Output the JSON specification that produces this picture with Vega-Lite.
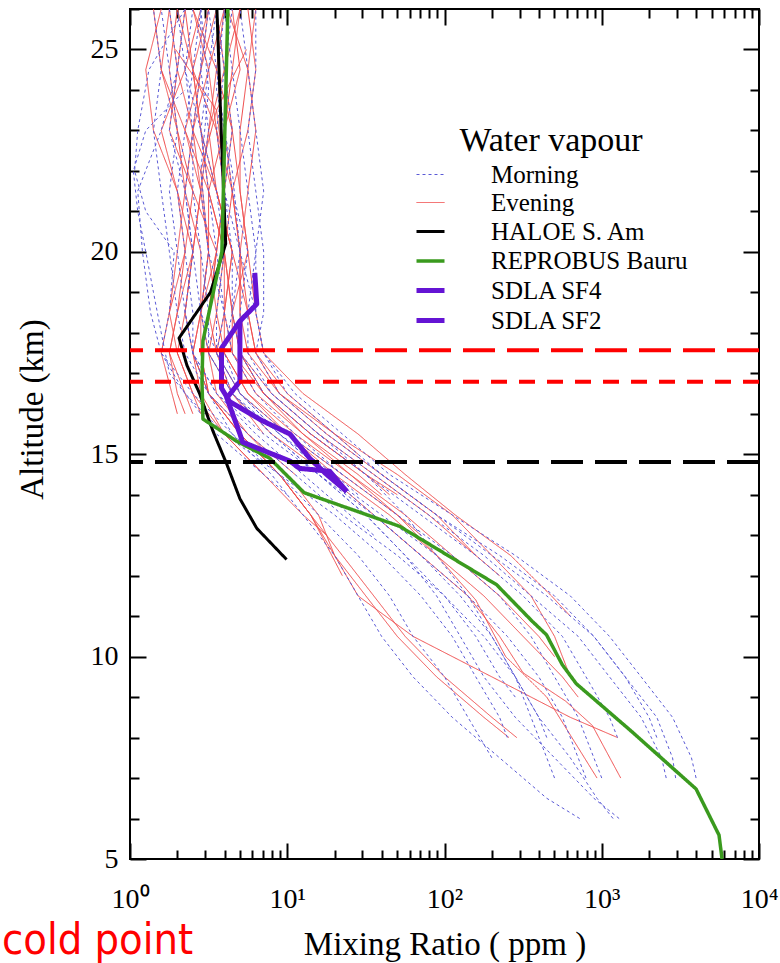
{
  "$schema": "https://vega.github.io/schema/vega-lite/v6.json",
  "width": 629,
  "height": 850,
  "autosize": {"type": "none"},
  "padding": {"left": 130, "top": 9, "right": 21, "bottom": 104},
  "background": "white",
  "config": {
    "font": "Liberation Serif",
    "view": {"stroke": "black", "strokeWidth": 2},
    "axis": {
      "domain": false, "grid": false,
      "labelFont": "Liberation Serif", "titleFont": "Liberation Serif",
      "labelFontSize": 28, "titleFontSize": 33, "titleFontWeight": "normal",
      "labelColor": "black", "titleColor": "black", "tickColor": "black", "tickWidth": 2,
      "labelFlush": false, "labelOverlap": false, "labelBound": false
    },
    "line": {"strokeJoin": "round", "strokeCap": "butt"}
  },
  "title": {
    "text": "cold point", "orient": "bottom", "anchor": "start", "frame": "group",
    "dx": -128, "offset": -7, "baseline": "alphabetic",
    "color": "#ff0000", "font": "'Liberation Sans Narrow', 'DejaVu Sans Condensed', sans-serif",
    "fontSize": 43, "fontWeight": "normal"
  },
  "datasets": {
    "profiles": [
      {"series":"Evening","id":"E1","km":26,"ppm":1.78},{"series":"Evening","id":"E1","km":24.5,"ppm":1.58},{"series":"Evening","id":"E1","km":23,"ppm":2.0},{"series":"Evening","id":"E1","km":21.5,"ppm":2.51},{"series":"Evening","id":"E1","km":20,"ppm":2.24},{"series":"Evening","id":"E1","km":18.5,"ppm":1.78},{"series":"Evening","id":"E1","km":17.5,"ppm":1.58},{"series":"Evening","id":"E1","km":16,"ppm":2.0},
      {"series":"Evening","id":"E2","km":26,"ppm":2.24},{"series":"Evening","id":"E2","km":24.5,"ppm":2.0},{"series":"Evening","id":"E2","km":23,"ppm":1.78},{"series":"Evening","id":"E2","km":21.5,"ppm":2.51},{"series":"Evening","id":"E2","km":20,"ppm":3.55},{"series":"Evening","id":"E2","km":18.5,"ppm":3.16},{"series":"Evening","id":"E2","km":17.5,"ppm":2.82},{"series":"Evening","id":"E2","km":16.5,"ppm":3.16},{"series":"Evening","id":"E2","km":15.5,"ppm":5.01},{"series":"Evening","id":"E2","km":14.5,"ppm":8.91},{"series":"Evening","id":"E2","km":13.5,"ppm":14.1},{"series":"Evening","id":"E2","km":12,"ppm":22.4},
      {"series":"Evening","id":"E3","km":26,"ppm":3.16},{"series":"Evening","id":"E3","km":24.5,"ppm":2.82},{"series":"Evening","id":"E3","km":23,"ppm":2.24},{"series":"Evening","id":"E3","km":21.5,"ppm":3.16},{"series":"Evening","id":"E3","km":20,"ppm":3.98},{"series":"Evening","id":"E3","km":18.5,"ppm":3.55},{"series":"Evening","id":"E3","km":17.5,"ppm":3.16},{"series":"Evening","id":"E3","km":16.5,"ppm":4.47},{"series":"Evening","id":"E3","km":15.5,"ppm":7.94},{"series":"Evening","id":"E3","km":14.5,"ppm":17.8},{"series":"Evening","id":"E3","km":13.5,"ppm":35.5},{"series":"Evening","id":"E3","km":12.5,"ppm":70.8},{"series":"Evening","id":"E3","km":11.5,"ppm":141},{"series":"Evening","id":"E3","km":10.5,"ppm":224},{"series":"Evening","id":"E3","km":9.6,"ppm":316},{"series":"Evening","id":"E3","km":8.9,"ppm":589},{"series":"Evening","id":"E3","km":8.3,"ppm":871},{"series":"Evening","id":"E3","km":7,"ppm":1320},
      {"series":"Evening","id":"E4","km":26,"ppm":3.98},{"series":"Evening","id":"E4","km":24.5,"ppm":3.55},{"series":"Evening","id":"E4","km":23,"ppm":3.16},{"series":"Evening","id":"E4","km":21.5,"ppm":3.55},{"series":"Evening","id":"E4","km":20,"ppm":4.47},{"series":"Evening","id":"E4","km":18.5,"ppm":3.98},{"series":"Evening","id":"E4","km":17.5,"ppm":3.98},{"series":"Evening","id":"E4","km":16.5,"ppm":5.62},{"series":"Evening","id":"E4","km":15.5,"ppm":11.2},{"series":"Evening","id":"E4","km":14.5,"ppm":25.1},{"series":"Evening","id":"E4","km":13.5,"ppm":50.1},{"series":"Evening","id":"E4","km":12.5,"ppm":89.1},{"series":"Evening","id":"E4","km":11.4,"ppm":158},{"series":"Evening","id":"E4","km":10,"ppm":245},{"series":"Evening","id":"E4","km":9,"ppm":447},{"series":"Evening","id":"E4","km":7,"ppm":933},
      {"series":"Evening","id":"E5","km":26,"ppm":5.01},{"series":"Evening","id":"E5","km":24.5,"ppm":4.47},{"series":"Evening","id":"E5","km":23,"ppm":3.98},{"series":"Evening","id":"E5","km":21.5,"ppm":4.47},{"series":"Evening","id":"E5","km":20,"ppm":5.01},{"series":"Evening","id":"E5","km":18.5,"ppm":5.01},{"series":"Evening","id":"E5","km":17.5,"ppm":5.62},{"series":"Evening","id":"E5","km":16.5,"ppm":8.91},{"series":"Evening","id":"E5","km":15.5,"ppm":20.0},{"series":"Evening","id":"E5","km":14.5,"ppm":50.1},{"series":"Evening","id":"E5","km":13.5,"ppm":112},{"series":"Evening","id":"E5","km":12.5,"ppm":200},{"series":"Evening","id":"E5","km":11.5,"ppm":355},{"series":"Evening","id":"E5","km":10.5,"ppm":501},{"series":"Evening","id":"E5","km":9.5,"ppm":631},
      {"series":"Evening","id":"E6","km":26,"ppm":6.31},{"series":"Evening","id":"E6","km":24.5,"ppm":5.62},{"series":"Evening","id":"E6","km":23,"ppm":5.01},{"series":"Evening","id":"E6","km":21.5,"ppm":5.01},{"series":"Evening","id":"E6","km":20,"ppm":5.62},{"series":"Evening","id":"E6","km":18.5,"ppm":6.31},{"series":"Evening","id":"E6","km":17.5,"ppm":7.08},{"series":"Evening","id":"E6","km":16.5,"ppm":12.6},{"series":"Evening","id":"E6","km":15.5,"ppm":28.2},{"series":"Evening","id":"E6","km":14.5,"ppm":56.2},{"series":"Evening","id":"E6","km":13.5,"ppm":117},{"series":"Evening","id":"E6","km":12.5,"ppm":263},{"series":"Evening","id":"E6","km":11.5,"ppm":479},{"series":"Evening","id":"E6","km":11,"ppm":631},
      {"series":"Evening","id":"E7","km":26,"ppm":1.41},{"series":"Evening","id":"E7","km":24.5,"ppm":1.58},{"series":"Evening","id":"E7","km":23,"ppm":2.24},{"series":"Evening","id":"E7","km":21.5,"ppm":2.82},{"series":"Evening","id":"E7","km":20,"ppm":2.51},{"series":"Evening","id":"E7","km":18.5,"ppm":2.24},{"series":"Evening","id":"E7","km":17.5,"ppm":2.51},{"series":"Evening","id":"E7","km":16.5,"ppm":3.16},{"series":"Evening","id":"E7","km":15.5,"ppm":5.01},{"series":"Evening","id":"E7","km":14.5,"ppm":8.91},{"series":"Evening","id":"E7","km":13.5,"ppm":14.1},{"series":"Evening","id":"E7","km":12.5,"ppm":22.4},{"series":"Evening","id":"E7","km":11.5,"ppm":35.5},{"series":"Evening","id":"E7","km":10.5,"ppm":56.2},{"series":"Evening","id":"E7","km":9.5,"ppm":100},{"series":"Evening","id":"E7","km":8.5,"ppm":200},{"series":"Evening","id":"E7","km":8,"ppm":288},
      {"series":"Evening","id":"E8","km":26,"ppm":2.0},{"series":"Evening","id":"E8","km":24.5,"ppm":1.78},{"series":"Evening","id":"E8","km":23,"ppm":2.0},{"series":"Evening","id":"E8","km":21.5,"ppm":2.24},{"series":"Evening","id":"E8","km":20,"ppm":2.82},{"series":"Evening","id":"E8","km":18.5,"ppm":2.82},{"series":"Evening","id":"E8","km":17.5,"ppm":3.16},{"series":"Evening","id":"E8","km":16.5,"ppm":3.55},{"series":"Evening","id":"E8","km":15.5,"ppm":5.62},{"series":"Evening","id":"E8","km":14.5,"ppm":10.0},{"series":"Evening","id":"E8","km":13.5,"ppm":15.8},{"series":"Evening","id":"E8","km":12.5,"ppm":20.0},{"series":"Evening","id":"E8","km":11.5,"ppm":31.6},{"series":"Evening","id":"E8","km":10.5,"ppm":50.1},{"series":"Evening","id":"E8","km":9.5,"ppm":89.1},{"series":"Evening","id":"E8","km":8.5,"ppm":178},{"series":"Evening","id":"E8","km":8,"ppm":257},
      {"series":"Evening","id":"E9","km":26,"ppm":2.51},{"series":"Evening","id":"E9","km":24.5,"ppm":3.16},{"series":"Evening","id":"E9","km":23,"ppm":3.55},{"series":"Evening","id":"E9","km":21.5,"ppm":3.98},{"series":"Evening","id":"E9","km":20,"ppm":3.55},{"series":"Evening","id":"E9","km":18.5,"ppm":3.16},{"series":"Evening","id":"E9","km":17.5,"ppm":3.55},{"series":"Evening","id":"E9","km":16.5,"ppm":5.01},{"series":"Evening","id":"E9","km":15.5,"ppm":10.0},{"series":"Evening","id":"E9","km":14.5,"ppm":22.4},{"series":"Evening","id":"E9","km":13.5,"ppm":50.1},{"series":"Evening","id":"E9","km":13,"ppm":70.8},
      {"series":"Evening","id":"E10","km":26,"ppm":3.55},{"series":"Evening","id":"E10","km":24.5,"ppm":3.98},{"series":"Evening","id":"E10","km":23,"ppm":4.47},{"series":"Evening","id":"E10","km":21.5,"ppm":5.01},{"series":"Evening","id":"E10","km":20,"ppm":5.62},{"series":"Evening","id":"E10","km":18.5,"ppm":4.47},{"series":"Evening","id":"E10","km":17.5,"ppm":4.47},{"series":"Evening","id":"E10","km":16.5,"ppm":7.08},{"series":"Evening","id":"E10","km":15.5,"ppm":14.1},{"series":"Evening","id":"E10","km":14.5,"ppm":31.6},{"series":"Evening","id":"E10","km":14,"ppm":50.1},
      {"series":"Evening","id":"E11","km":25,"ppm":1.95},{"series":"Evening","id":"E11","km":23.5,"ppm":3.55},{"series":"Evening","id":"E11","km":22,"ppm":3.98},{"series":"Evening","id":"E11","km":20,"ppm":3.98},{"series":"Evening","id":"E11","km":18.5,"ppm":4.47},{"series":"Evening","id":"E11","km":17.5,"ppm":5.01},{"series":"Evening","id":"E11","km":16.5,"ppm":7.08},{"series":"Evening","id":"E11","km":15.5,"ppm":12.6},{"series":"Evening","id":"E11","km":14.5,"ppm":28.2},{"series":"Evening","id":"E11","km":14,"ppm":39.8},
      {"series":"Evening","id":"E12","km":25,"ppm":5.5},{"series":"Evening","id":"E12","km":23.5,"ppm":3.55},{"series":"Evening","id":"E12","km":22,"ppm":2.82},{"series":"Evening","id":"E12","km":20,"ppm":3.16},{"series":"Evening","id":"E12","km":18.5,"ppm":2.82},{"series":"Evening","id":"E12","km":17.5,"ppm":2.51},{"series":"Evening","id":"E12","km":16.5,"ppm":2.82},{"series":"Evening","id":"E12","km":15.5,"ppm":3.98},{"series":"Evening","id":"E12","km":14.5,"ppm":7.08},{"series":"Evening","id":"E12","km":13.5,"ppm":12.6},{"series":"Evening","id":"E12","km":13,"ppm":17.8},
      {"series":"Evening","id":"E13","km":26,"ppm":1.58},{"series":"Evening","id":"E13","km":24.5,"ppm":1.26},{"series":"Evening","id":"E13","km":23,"ppm":1.41},{"series":"Evening","id":"E13","km":21.5,"ppm":2.0},{"series":"Evening","id":"E13","km":20,"ppm":2.24},{"series":"Evening","id":"E13","km":18.5,"ppm":2.0},{"series":"Evening","id":"E13","km":17.5,"ppm":1.78},{"series":"Evening","id":"E13","km":16.5,"ppm":2.0},{"series":"Evening","id":"E13","km":16,"ppm":2.24},
      {"series":"Evening","id":"E14","km":26,"ppm":2.82},{"series":"Evening","id":"E14","km":24.5,"ppm":2.24},{"series":"Evening","id":"E14","km":23,"ppm":1.58},{"series":"Evening","id":"E14","km":21.5,"ppm":2.0},{"series":"Evening","id":"E14","km":20,"ppm":2.51},{"series":"Evening","id":"E14","km":18.5,"ppm":2.24},{"series":"Evening","id":"E14","km":17.5,"ppm":2.0},{"series":"Evening","id":"E14","km":16.5,"ppm":2.51},{"series":"Evening","id":"E14","km":15.5,"ppm":3.98},{"series":"Evening","id":"E14","km":14.5,"ppm":7.08},
      {"series":"Evening","id":"E15","km":26,"ppm":4.47},{"series":"Evening","id":"E15","km":24.5,"ppm":5.01},{"series":"Evening","id":"E15","km":23,"ppm":3.98},{"series":"Evening","id":"E15","km":21.5,"ppm":3.16},{"series":"Evening","id":"E15","km":20,"ppm":3.16},{"series":"Evening","id":"E15","km":18.5,"ppm":3.55},{"series":"Evening","id":"E15","km":17.5,"ppm":3.98},{"series":"Evening","id":"E15","km":16.5,"ppm":5.62},{"series":"Evening","id":"E15","km":15.5,"ppm":10.0},{"series":"Evening","id":"E15","km":14.5,"ppm":20.0},{"series":"Evening","id":"E15","km":13.5,"ppm":44.7},{"series":"Evening","id":"E15","km":12.5,"ppm":89.1},{"series":"Evening","id":"E15","km":11.5,"ppm":178},{"series":"Evening","id":"E15","km":10.5,"ppm":316},{"series":"Evening","id":"E15","km":9.5,"ppm":562},{"series":"Evening","id":"E15","km":9,"ppm":708},
      {"series":"Evening","id":"E16","km":26,"ppm":2.24},{"series":"Evening","id":"E16","km":24.5,"ppm":2.51},{"series":"Evening","id":"E16","km":23,"ppm":2.82},{"series":"Evening","id":"E16","km":21.5,"ppm":3.16},{"series":"Evening","id":"E16","km":20,"ppm":3.98},{"series":"Evening","id":"E16","km":18.5,"ppm":4.47},{"series":"Evening","id":"E16","km":17.5,"ppm":5.01},{"series":"Evening","id":"E16","km":16.5,"ppm":7.94},{"series":"Evening","id":"E16","km":15.5,"ppm":15.8},{"series":"Evening","id":"E16","km":14.5,"ppm":35.5},{"series":"Evening","id":"E16","km":13.5,"ppm":79.4},{"series":"Evening","id":"E16","km":12.5,"ppm":158},{"series":"Evening","id":"E16","km":12,"ppm":224},
      {"series":"Evening","id":"E17","km":26,"ppm":3.16},{"series":"Evening","id":"E17","km":24.5,"ppm":2.51},{"series":"Evening","id":"E17","km":23,"ppm":2.82},{"series":"Evening","id":"E17","km":21.5,"ppm":3.55},{"series":"Evening","id":"E17","km":20,"ppm":4.47},{"series":"Evening","id":"E17","km":18.5,"ppm":5.62},{"series":"Evening","id":"E17","km":17.5,"ppm":6.31},{"series":"Evening","id":"E17","km":16.5,"ppm":10.0},{"series":"Evening","id":"E17","km":15.5,"ppm":20.0},{"series":"Evening","id":"E17","km":15,"ppm":28.2},
      {"series":"Evening","id":"E18","km":26,"ppm":5.62},{"series":"Evening","id":"E18","km":24.5,"ppm":6.31},{"series":"Evening","id":"E18","km":23,"ppm":5.62},{"series":"Evening","id":"E18","km":21.5,"ppm":4.47},{"series":"Evening","id":"E18","km":20,"ppm":3.98},{"series":"Evening","id":"E18","km":18.5,"ppm":3.98},{"series":"Evening","id":"E18","km":17.5,"ppm":4.47},{"series":"Evening","id":"E18","km":16.5,"ppm":6.31},{"series":"Evening","id":"E18","km":15.5,"ppm":12.6},{"series":"Evening","id":"E18","km":14.5,"ppm":25.1},{"series":"Evening","id":"E18","km":13.5,"ppm":56.2},{"series":"Evening","id":"E18","km":12.5,"ppm":112},{"series":"Evening","id":"E18","km":11.5,"ppm":224},{"series":"Evening","id":"E18","km":10.5,"ppm":398},{"series":"Evening","id":"E18","km":10,"ppm":501},
      {"series":"Evening","id":"E19","km":26,"ppm":1.78},{"series":"Evening","id":"E19","km":24.5,"ppm":2.0},{"series":"Evening","id":"E19","km":23,"ppm":2.51},{"series":"Evening","id":"E19","km":21.5,"ppm":2.24},{"series":"Evening","id":"E19","km":20,"ppm":2.0},{"series":"Evening","id":"E19","km":18.5,"ppm":1.78},{"series":"Evening","id":"E19","km":17.5,"ppm":2.0},{"series":"Evening","id":"E19","km":16.5,"ppm":2.51},{"series":"Evening","id":"E19","km":16,"ppm":2.82},
      {"series":"Evening","id":"E20","km":26,"ppm":3.98},{"series":"Evening","id":"E20","km":24.5,"ppm":3.16},{"series":"Evening","id":"E20","km":23,"ppm":2.51},{"series":"Evening","id":"E20","km":21.5,"ppm":2.82},{"series":"Evening","id":"E20","km":20,"ppm":3.16},{"series":"Evening","id":"E20","km":18.5,"ppm":2.82},{"series":"Evening","id":"E20","km":17.5,"ppm":2.82},{"series":"Evening","id":"E20","km":16.5,"ppm":3.16},{"series":"Evening","id":"E20","km":15.5,"ppm":5.01},{"series":"Evening","id":"E20","km":14.5,"ppm":8.91},{"series":"Evening","id":"E20","km":13.5,"ppm":14.1},{"series":"Evening","id":"E20","km":12.5,"ppm":20.0},{"series":"Evening","id":"E20","km":11.5,"ppm":28.2},{"series":"Evening","id":"E20","km":10.5,"ppm":63.1},{"series":"Evening","id":"E20","km":9.5,"ppm":200},{"series":"Evening","id":"E20","km":8.5,"ppm":631},{"series":"Evening","id":"E20","km":8,"ppm":1260},
      {"series":"Evening","id":"E21","km":26,"ppm":3.55},{"series":"Evening","id":"E21","km":24.5,"ppm":2.82},{"series":"Evening","id":"E21","km":23,"ppm":2.51},{"series":"Evening","id":"E21","km":21.5,"ppm":3.55},{"series":"Evening","id":"E21","km":20,"ppm":4.47},{"series":"Evening","id":"E21","km":18.5,"ppm":3.98},{"series":"Evening","id":"E21","km":17.5,"ppm":3.55},{"series":"Evening","id":"E21","km":16.5,"ppm":4.47},{"series":"Evening","id":"E21","km":15.5,"ppm":7.08},
      {"series":"Evening","id":"E22","km":26,"ppm":2.51},{"series":"Evening","id":"E22","km":24.5,"ppm":3.55},{"series":"Evening","id":"E22","km":23,"ppm":4.47},{"series":"Evening","id":"E22","km":21.5,"ppm":3.98},{"series":"Evening","id":"E22","km":20,"ppm":3.55},{"series":"Evening","id":"E22","km":18.5,"ppm":2.82},{"series":"Evening","id":"E22","km":17.5,"ppm":2.51},{"series":"Evening","id":"E22","km":16.5,"ppm":3.16},{"series":"Evening","id":"E22","km":15.5,"ppm":5.62},{"series":"Evening","id":"E22","km":14.5,"ppm":11.2},
      {"series":"Evening","id":"E23","km":26,"ppm":5.01},{"series":"Evening","id":"E23","km":24.5,"ppm":3.98},{"series":"Evening","id":"E23","km":23,"ppm":3.16},{"series":"Evening","id":"E23","km":21.5,"ppm":2.82},{"series":"Evening","id":"E23","km":20,"ppm":2.51},{"series":"Evening","id":"E23","km":18.5,"ppm":2.0},{"series":"Evening","id":"E23","km":17.5,"ppm":1.78},{"series":"Evening","id":"E23","km":16.5,"ppm":2.24},{"series":"Evening","id":"E23","km":16,"ppm":2.51},
      {"series":"Evening","id":"E24","km":26,"ppm":2.0},{"series":"Evening","id":"E24","km":24.5,"ppm":2.51},{"series":"Evening","id":"E24","km":23,"ppm":3.55},{"series":"Evening","id":"E24","km":21.5,"ppm":4.47},{"series":"Evening","id":"E24","km":20,"ppm":5.01},{"series":"Evening","id":"E24","km":18.5,"ppm":5.01},{"series":"Evening","id":"E24","km":17.5,"ppm":5.01},{"series":"Evening","id":"E24","km":16.5,"ppm":7.08},{"series":"Evening","id":"E24","km":15.5,"ppm":14.1},{"series":"Evening","id":"E24","km":14.5,"ppm":31.6},{"series":"Evening","id":"E24","km":14,"ppm":44.7},
      {"series":"Evening","id":"E25","km":26,"ppm":4.17},{"series":"Evening","id":"E25","km":24.5,"ppm":5.62},{"series":"Evening","id":"E25","km":23,"ppm":6.31},{"series":"Evening","id":"E25","km":21.5,"ppm":5.62},{"series":"Evening","id":"E25","km":20,"ppm":5.01},{"series":"Evening","id":"E25","km":18.5,"ppm":5.62},{"series":"Evening","id":"E25","km":17.5,"ppm":6.31},{"series":"Evening","id":"E25","km":16.5,"ppm":8.91},{"series":"Evening","id":"E25","km":15.5,"ppm":17.8},{"series":"Evening","id":"E25","km":14.5,"ppm":39.8},{"series":"Evening","id":"E25","km":13.5,"ppm":89.1},{"series":"Evening","id":"E25","km":12.5,"ppm":158},

      {"series":"Morning","id":"M1","km":26,"ppm":2.24},{"series":"Morning","id":"M1","km":24.5,"ppm":1.32},{"series":"Morning","id":"M1","km":23,"ppm":1.12},{"series":"Morning","id":"M1","km":22,"ppm":1.07},{"series":"Morning","id":"M1","km":21,"ppm":1.26},{"series":"Morning","id":"M1","km":20,"ppm":1.91},{"series":"Morning","id":"M1","km":18.5,"ppm":1.78},{"series":"Morning","id":"M1","km":17.5,"ppm":1.58},{"series":"Morning","id":"M1","km":16.5,"ppm":2.24},{"series":"Morning","id":"M1","km":15.5,"ppm":3.98},{"series":"Morning","id":"M1","km":14.5,"ppm":8.91},{"series":"Morning","id":"M1","km":13.5,"ppm":20.0},{"series":"Morning","id":"M1","km":12.5,"ppm":39.8},{"series":"Morning","id":"M1","km":11.5,"ppm":70.8},{"series":"Morning","id":"M1","km":10.5,"ppm":112},{"series":"Morning","id":"M1","km":9.5,"ppm":158},{"series":"Morning","id":"M1","km":8.5,"ppm":224},{"series":"Morning","id":"M1","km":8,"ppm":251},
      {"series":"Morning","id":"M2","km":26,"ppm":1.78},{"series":"Morning","id":"M2","km":24.5,"ppm":2.0},{"series":"Morning","id":"M2","km":23,"ppm":1.58},{"series":"Morning","id":"M2","km":21.5,"ppm":1.12},{"series":"Morning","id":"M2","km":20,"ppm":1.2},{"series":"Morning","id":"M2","km":18.5,"ppm":1.35},{"series":"Morning","id":"M2","km":17.5,"ppm":1.58},{"series":"Morning","id":"M2","km":16.5,"ppm":2.51},{"series":"Morning","id":"M2","km":15.5,"ppm":4.47},{"series":"Morning","id":"M2","km":14.5,"ppm":8.91},{"series":"Morning","id":"M2","km":13.5,"ppm":15.8},{"series":"Morning","id":"M2","km":12.5,"ppm":28.2},{"series":"Morning","id":"M2","km":11.5,"ppm":44.7},{"series":"Morning","id":"M2","km":10.5,"ppm":63.1},{"series":"Morning","id":"M2","km":9.5,"ppm":100},{"series":"Morning","id":"M2","km":8.5,"ppm":141},{"series":"Morning","id":"M2","km":7.5,"ppm":200},
      {"series":"Morning","id":"M3","km":26,"ppm":2.82},{"series":"Morning","id":"M3","km":24.5,"ppm":2.51},{"series":"Morning","id":"M3","km":23,"ppm":2.24},{"series":"Morning","id":"M3","km":21.5,"ppm":2.0},{"series":"Morning","id":"M3","km":20,"ppm":2.24},{"series":"Morning","id":"M3","km":18.5,"ppm":2.51},{"series":"Morning","id":"M3","km":17.5,"ppm":2.51},{"series":"Morning","id":"M3","km":16.5,"ppm":3.16},{"series":"Morning","id":"M3","km":15.5,"ppm":4.47},{"series":"Morning","id":"M3","km":14.5,"ppm":7.94},{"series":"Morning","id":"M3","km":13.5,"ppm":12.6},{"series":"Morning","id":"M3","km":12.5,"ppm":20.0},{"series":"Morning","id":"M3","km":11.5,"ppm":28.2},{"series":"Morning","id":"M3","km":10.5,"ppm":39.8},{"series":"Morning","id":"M3","km":9.5,"ppm":63.1},{"series":"Morning","id":"M3","km":8.5,"ppm":112},{"series":"Morning","id":"M3","km":7.5,"ppm":224},{"series":"Morning","id":"M3","km":6.5,"ppm":447},{"series":"Morning","id":"M3","km":6,"ppm":724},
      {"series":"Morning","id":"M4","km":26,"ppm":3.55},{"series":"Morning","id":"M4","km":24.5,"ppm":3.16},{"series":"Morning","id":"M4","km":23,"ppm":2.82},{"series":"Morning","id":"M4","km":21.5,"ppm":3.16},{"series":"Morning","id":"M4","km":20,"ppm":3.55},{"series":"Morning","id":"M4","km":18.5,"ppm":3.98},{"series":"Morning","id":"M4","km":17.5,"ppm":3.55},{"series":"Morning","id":"M4","km":16.5,"ppm":4.47},{"series":"Morning","id":"M4","km":15.5,"ppm":7.94},{"series":"Morning","id":"M4","km":14.5,"ppm":15.8},{"series":"Morning","id":"M4","km":13.5,"ppm":31.6},{"series":"Morning","id":"M4","km":12.5,"ppm":56.2},{"series":"Morning","id":"M4","km":11.5,"ppm":89.1},{"series":"Morning","id":"M4","km":10.5,"ppm":126},{"series":"Morning","id":"M4","km":9.5,"ppm":178},{"series":"Morning","id":"M4","km":8.5,"ppm":282},{"series":"Morning","id":"M4","km":7.5,"ppm":501},{"series":"Morning","id":"M4","km":6.5,"ppm":891},{"series":"Morning","id":"M4","km":6,"ppm":1290},
      {"series":"Morning","id":"M5","km":26,"ppm":3.98},{"series":"Morning","id":"M5","km":24.5,"ppm":4.47},{"series":"Morning","id":"M5","km":23,"ppm":5.01},{"series":"Morning","id":"M5","km":21.5,"ppm":5.62},{"series":"Morning","id":"M5","km":20,"ppm":6.31},{"series":"Morning","id":"M5","km":18.5,"ppm":5.62},{"series":"Morning","id":"M5","km":17.5,"ppm":5.62},{"series":"Morning","id":"M5","km":16.5,"ppm":7.94},{"series":"Morning","id":"M5","km":15.5,"ppm":15.8},{"series":"Morning","id":"M5","km":14.5,"ppm":31.6},{"series":"Morning","id":"M5","km":13.5,"ppm":56.2},{"series":"Morning","id":"M5","km":12.5,"ppm":89.1},{"series":"Morning","id":"M5","km":11.5,"ppm":141},{"series":"Morning","id":"M5","km":10.5,"ppm":200},{"series":"Morning","id":"M5","km":9.5,"ppm":282},{"series":"Morning","id":"M5","km":8.5,"ppm":398},{"series":"Morning","id":"M5","km":7.5,"ppm":631},{"series":"Morning","id":"M5","km":6.5,"ppm":933},{"series":"Morning","id":"M5","km":6,"ppm":1180},
      {"series":"Morning","id":"M6","km":26,"ppm":5.01},{"series":"Morning","id":"M6","km":24.5,"ppm":5.62},{"series":"Morning","id":"M6","km":23,"ppm":6.31},{"series":"Morning","id":"M6","km":21.5,"ppm":7.08},{"series":"Morning","id":"M6","km":20,"ppm":6.31},{"series":"Morning","id":"M6","km":18.5,"ppm":6.31},{"series":"Morning","id":"M6","km":17.5,"ppm":7.08},{"series":"Morning","id":"M6","km":16.5,"ppm":11.2},{"series":"Morning","id":"M6","km":15.5,"ppm":22.4},{"series":"Morning","id":"M6","km":14.5,"ppm":44.7},{"series":"Morning","id":"M6","km":13.5,"ppm":112},{"series":"Morning","id":"M6","km":12.5,"ppm":282},{"series":"Morning","id":"M6","km":11.5,"ppm":631},{"series":"Morning","id":"M6","km":10.5,"ppm":1120},{"series":"Morning","id":"M6","km":9.5,"ppm":1780},{"series":"Morning","id":"M6","km":8.5,"ppm":2820},{"series":"Morning","id":"M6","km":7.5,"ppm":3720},{"series":"Morning","id":"M6","km":7,"ppm":3980},
      {"series":"Morning","id":"M7","km":26,"ppm":4.47},{"series":"Morning","id":"M7","km":24.5,"ppm":3.98},{"series":"Morning","id":"M7","km":23,"ppm":3.55},{"series":"Morning","id":"M7","km":21.5,"ppm":3.98},{"series":"Morning","id":"M7","km":20,"ppm":5.01},{"series":"Morning","id":"M7","km":18.5,"ppm":6.31},{"series":"Morning","id":"M7","km":17.5,"ppm":7.08},{"series":"Morning","id":"M7","km":16.5,"ppm":10.0},{"series":"Morning","id":"M7","km":15.5,"ppm":20.0},{"series":"Morning","id":"M7","km":14.5,"ppm":39.8},{"series":"Morning","id":"M7","km":13.5,"ppm":89.1},{"series":"Morning","id":"M7","km":12.5,"ppm":224},{"series":"Morning","id":"M7","km":11.5,"ppm":501},{"series":"Morning","id":"M7","km":10.5,"ppm":891},{"series":"Morning","id":"M7","km":9.5,"ppm":1410},{"series":"Morning","id":"M7","km":8.5,"ppm":2240},{"series":"Morning","id":"M7","km":7.5,"ppm":2820},{"series":"Morning","id":"M7","km":7,"ppm":2950},
      {"series":"Morning","id":"M8","km":26,"ppm":3.16},{"series":"Morning","id":"M8","km":24.5,"ppm":3.55},{"series":"Morning","id":"M8","km":23,"ppm":3.98},{"series":"Morning","id":"M8","km":21.5,"ppm":4.47},{"series":"Morning","id":"M8","km":20,"ppm":5.62},{"series":"Morning","id":"M8","km":18.5,"ppm":5.01},{"series":"Morning","id":"M8","km":17.5,"ppm":5.01},{"series":"Morning","id":"M8","km":16.5,"ppm":7.94},{"series":"Morning","id":"M8","km":15.5,"ppm":15.8},{"series":"Morning","id":"M8","km":14.5,"ppm":35.5},{"series":"Morning","id":"M8","km":13.5,"ppm":79.4},{"series":"Morning","id":"M8","km":12.5,"ppm":178},{"series":"Morning","id":"M8","km":11.5,"ppm":355},{"series":"Morning","id":"M8","km":10.5,"ppm":708},{"series":"Morning","id":"M8","km":9.5,"ppm":1120},{"series":"Morning","id":"M8","km":8.5,"ppm":1780},{"series":"Morning","id":"M8","km":7.5,"ppm":2400},{"series":"Morning","id":"M8","km":7,"ppm":2570},
      {"series":"Morning","id":"M9","km":26,"ppm":2.51},{"series":"Morning","id":"M9","km":24.5,"ppm":2.24},{"series":"Morning","id":"M9","km":23,"ppm":2.82},{"series":"Morning","id":"M9","km":21.5,"ppm":3.55},{"series":"Morning","id":"M9","km":20,"ppm":3.98},{"series":"Morning","id":"M9","km":18.5,"ppm":3.55},{"series":"Morning","id":"M9","km":17.5,"ppm":3.55},{"series":"Morning","id":"M9","km":16.5,"ppm":5.01},{"series":"Morning","id":"M9","km":15.5,"ppm":8.91},{"series":"Morning","id":"M9","km":14.5,"ppm":17.8},{"series":"Morning","id":"M9","km":13.5,"ppm":35.5},{"series":"Morning","id":"M9","km":12.5,"ppm":70.8},{"series":"Morning","id":"M9","km":11.5,"ppm":126},{"series":"Morning","id":"M9","km":10.5,"ppm":200},{"series":"Morning","id":"M9","km":9.5,"ppm":282},{"series":"Morning","id":"M9","km":8.5,"ppm":355},{"series":"Morning","id":"M9","km":7.5,"ppm":447},{"series":"Morning","id":"M9","km":7,"ppm":501},
      {"series":"Morning","id":"M10","km":26,"ppm":2.0},{"series":"Morning","id":"M10","km":24.5,"ppm":2.24},{"series":"Morning","id":"M10","km":23,"ppm":2.51},{"series":"Morning","id":"M10","km":21.5,"ppm":2.51},{"series":"Morning","id":"M10","km":20,"ppm":2.82},{"series":"Morning","id":"M10","km":18.5,"ppm":3.16},{"series":"Morning","id":"M10","km":17.5,"ppm":3.16},{"series":"Morning","id":"M10","km":16.5,"ppm":4.47},{"series":"Morning","id":"M10","km":15.5,"ppm":7.94},{"series":"Morning","id":"M10","km":14.5,"ppm":15.8},{"series":"Morning","id":"M10","km":13.5,"ppm":31.6},{"series":"Morning","id":"M10","km":12.5,"ppm":56.2},{"series":"Morning","id":"M10","km":11.5,"ppm":100},{"series":"Morning","id":"M10","km":10.5,"ppm":158},{"series":"Morning","id":"M10","km":9.5,"ppm":224},{"series":"Morning","id":"M10","km":9,"ppm":282},
      {"series":"Morning","id":"M11","km":26,"ppm":1.58},{"series":"Morning","id":"M11","km":24.5,"ppm":1.78},{"series":"Morning","id":"M11","km":23,"ppm":2.0},{"series":"Morning","id":"M11","km":21.5,"ppm":1.78},{"series":"Morning","id":"M11","km":20,"ppm":2.0},{"series":"Morning","id":"M11","km":18.5,"ppm":2.24},{"series":"Morning","id":"M11","km":17.5,"ppm":2.51},{"series":"Morning","id":"M11","km":16.5,"ppm":3.55},{"series":"Morning","id":"M11","km":15.5,"ppm":6.31},{"series":"Morning","id":"M11","km":14.5,"ppm":12.6},{"series":"Morning","id":"M11","km":13.5,"ppm":25.1},{"series":"Morning","id":"M11","km":13,"ppm":35.5},
      {"series":"Morning","id":"M12","km":26,"ppm":1.41},{"series":"Morning","id":"M12","km":24.5,"ppm":1.58},{"series":"Morning","id":"M12","km":23,"ppm":1.41},{"series":"Morning","id":"M12","km":21.5,"ppm":1.58},{"series":"Morning","id":"M12","km":20,"ppm":1.78},{"series":"Morning","id":"M12","km":18.5,"ppm":2.0},{"series":"Morning","id":"M12","km":17.5,"ppm":2.24},{"series":"Morning","id":"M12","km":16.5,"ppm":3.16},{"series":"Morning","id":"M12","km":15.5,"ppm":5.62},{"series":"Morning","id":"M12","km":14.5,"ppm":11.2},{"series":"Morning","id":"M12","km":13.5,"ppm":22.4},{"series":"Morning","id":"M12","km":12.5,"ppm":50.1},{"series":"Morning","id":"M12","km":11.5,"ppm":100},{"series":"Morning","id":"M12","km":10.5,"ppm":178},{"series":"Morning","id":"M12","km":9.5,"ppm":282},{"series":"Morning","id":"M12","km":8.5,"ppm":398},{"series":"Morning","id":"M12","km":8,"ppm":447},
      {"series":"Morning","id":"M13","km":26,"ppm":2.24},{"series":"Morning","id":"M13","km":24.5,"ppm":2.0},{"series":"Morning","id":"M13","km":23,"ppm":1.78},{"series":"Morning","id":"M13","km":21.5,"ppm":2.24},{"series":"Morning","id":"M13","km":20,"ppm":2.51},{"series":"Morning","id":"M13","km":18.5,"ppm":2.24},{"series":"Morning","id":"M13","km":17.5,"ppm":2.51},{"series":"Morning","id":"M13","km":16.5,"ppm":3.55},{"series":"Morning","id":"M13","km":15.5,"ppm":7.08},{"series":"Morning","id":"M13","km":14.5,"ppm":15.8},{"series":"Morning","id":"M13","km":13.5,"ppm":35.5},{"series":"Morning","id":"M13","km":12.5,"ppm":70.8},{"series":"Morning","id":"M13","km":11.5,"ppm":141},{"series":"Morning","id":"M13","km":10.5,"ppm":251},{"series":"Morning","id":"M13","km":9.5,"ppm":398},{"series":"Morning","id":"M13","km":8.5,"ppm":562},{"series":"Morning","id":"M13","km":7.5,"ppm":708},{"series":"Morning","id":"M13","km":7,"ppm":794},
      {"series":"Morning","id":"M14","km":26,"ppm":6.31},{"series":"Morning","id":"M14","km":24.5,"ppm":6.31},{"series":"Morning","id":"M14","km":23,"ppm":5.62},{"series":"Morning","id":"M14","km":21.5,"ppm":6.31},{"series":"Morning","id":"M14","km":20,"ppm":7.08},{"series":"Morning","id":"M14","km":18.5,"ppm":7.08},{"series":"Morning","id":"M14","km":17.5,"ppm":6.31},{"series":"Morning","id":"M14","km":16.5,"ppm":8.91},{"series":"Morning","id":"M14","km":15.5,"ppm":17.8},{"series":"Morning","id":"M14","km":14.5,"ppm":39.8},{"series":"Morning","id":"M14","km":13.5,"ppm":89.1},{"series":"Morning","id":"M14","km":12.5,"ppm":200},{"series":"Morning","id":"M14","km":11.5,"ppm":447},{"series":"Morning","id":"M14","km":10.5,"ppm":891},{"series":"Morning","id":"M14","km":9.5,"ppm":1410},{"series":"Morning","id":"M14","km":8.5,"ppm":2000},{"series":"Morning","id":"M14","km":8,"ppm":2240},
      {"series":"Morning","id":"M15","km":26,"ppm":2.82},{"series":"Morning","id":"M15","km":24.5,"ppm":2.82},{"series":"Morning","id":"M15","km":23,"ppm":3.16},{"series":"Morning","id":"M15","km":21.5,"ppm":2.82},{"series":"Morning","id":"M15","km":20,"ppm":3.16},{"series":"Morning","id":"M15","km":18.5,"ppm":2.82},{"series":"Morning","id":"M15","km":17.5,"ppm":3.16},{"series":"Morning","id":"M15","km":16.5,"ppm":4.47},{"series":"Morning","id":"M15","km":15.5,"ppm":8.91},{"series":"Morning","id":"M15","km":14.5,"ppm":20.0},{"series":"Morning","id":"M15","km":14,"ppm":28.2},
      {"series":"Morning","id":"M16","km":26,"ppm":3.55},{"series":"Morning","id":"M16","km":24.5,"ppm":3.98},{"series":"Morning","id":"M16","km":23,"ppm":4.47},{"series":"Morning","id":"M16","km":21.5,"ppm":3.98},{"series":"Morning","id":"M16","km":20,"ppm":4.47},{"series":"Morning","id":"M16","km":18.5,"ppm":4.47},{"series":"Morning","id":"M16","km":17.5,"ppm":5.01},{"series":"Morning","id":"M16","km":16.5,"ppm":7.08},{"series":"Morning","id":"M16","km":15.5,"ppm":14.1},{"series":"Morning","id":"M16","km":14.5,"ppm":31.6},{"series":"Morning","id":"M16","km":13.5,"ppm":70.8},{"series":"Morning","id":"M16","km":12.5,"ppm":158},{"series":"Morning","id":"M16","km":11.5,"ppm":316},{"series":"Morning","id":"M16","km":10.5,"ppm":562},{"series":"Morning","id":"M16","km":9.5,"ppm":794},{"series":"Morning","id":"M16","km":8.5,"ppm":1120},{"series":"Morning","id":"M16","km":8,"ppm":1260},
      {"series":"Morning","id":"M17","km":24,"ppm":2.24},{"series":"Morning","id":"M17","km":23,"ppm":1.26},{"series":"Morning","id":"M17","km":22,"ppm":1.05},{"series":"Morning","id":"M17","km":21,"ppm":1.12},{"series":"Morning","id":"M17","km":20,"ppm":1.26},{"series":"Morning","id":"M17","km":19,"ppm":1.41},{"series":"Morning","id":"M17","km":18,"ppm":1.58},{"series":"Morning","id":"M17","km":17,"ppm":1.78},{"series":"Morning","id":"M17","km":16.5,"ppm":2.24},{"series":"Morning","id":"M17","km":15.5,"ppm":3.55},{"series":"Morning","id":"M17","km":14.5,"ppm":7.08},{"series":"Morning","id":"M17","km":14,"ppm":10.0},
      {"series":"Morning","id":"M18","km":26,"ppm":3.16},{"series":"Morning","id":"M18","km":24.5,"ppm":2.82},{"series":"Morning","id":"M18","km":23,"ppm":2.51},{"series":"Morning","id":"M18","km":21.5,"ppm":2.24},{"series":"Morning","id":"M18","km":20,"ppm":2.51},{"series":"Morning","id":"M18","km":18.5,"ppm":2.82},{"series":"Morning","id":"M18","km":17.5,"ppm":3.55},{"series":"Morning","id":"M18","km":16.5,"ppm":5.01},{"series":"Morning","id":"M18","km":15.5,"ppm":10.0},{"series":"Morning","id":"M18","km":14.5,"ppm":22.4},{"series":"Morning","id":"M18","km":13.5,"ppm":50.1},{"series":"Morning","id":"M18","km":12.5,"ppm":112},{"series":"Morning","id":"M18","km":11.5,"ppm":224},{"series":"Morning","id":"M18","km":10.5,"ppm":355},{"series":"Morning","id":"M18","km":9.5,"ppm":501},{"series":"Morning","id":"M18","km":8.5,"ppm":708},{"series":"Morning","id":"M18","km":7.5,"ppm":891},{"series":"Morning","id":"M18","km":7,"ppm":1000},
      {"series":"Morning","id":"M19","km":26,"ppm":2.82},{"series":"Morning","id":"M19","km":24,"ppm":3.16},{"series":"Morning","id":"M19","km":22,"ppm":2.82},{"series":"Morning","id":"M19","km":20,"ppm":3.16},{"series":"Morning","id":"M19","km":18.5,"ppm":3.98},{"series":"Morning","id":"M19","km":17.5,"ppm":4.47},{"series":"Morning","id":"M19","km":16.5,"ppm":6.31},{"series":"Morning","id":"M19","km":15.5,"ppm":11.2},{"series":"Morning","id":"M19","km":14.5,"ppm":22.4},
      {"series":"Morning","id":"M20","km":26,"ppm":3.98},{"series":"Morning","id":"M20","km":24,"ppm":3.55},{"series":"Morning","id":"M20","km":22,"ppm":4.47},{"series":"Morning","id":"M20","km":20,"ppm":5.01},{"series":"Morning","id":"M20","km":18.5,"ppm":4.47},{"series":"Morning","id":"M20","km":17.5,"ppm":3.98},{"series":"Morning","id":"M20","km":16.5,"ppm":5.01},{"series":"Morning","id":"M20","km":15.5,"ppm":8.91},{"series":"Morning","id":"M20","km":14.5,"ppm":17.8},{"series":"Morning","id":"M20","km":13.5,"ppm":39.8},{"series":"Morning","id":"M20","km":12.5,"ppm":89.1},

      {"series":"HALOE S. Am","id":"H","km":26,"ppm":3.57},{"series":"HALOE S. Am","id":"H","km":23,"ppm":3.8},{"series":"HALOE S. Am","id":"H","km":20.2,"ppm":4.06},{"series":"HALOE S. Am","id":"H","km":19,"ppm":3.25},{"series":"HALOE S. Am","id":"H","km":17.87,"ppm":2.05},{"series":"HALOE S. Am","id":"H","km":17.2,"ppm":2.3},{"series":"HALOE S. Am","id":"H","km":16.5,"ppm":2.77},{"series":"HALOE S. Am","id":"H","km":15.57,"ppm":3.37},{"series":"HALOE S. Am","id":"H","km":14.75,"ppm":4.13},{"series":"HALOE S. Am","id":"H","km":13.9,"ppm":5.0},{"series":"HALOE S. Am","id":"H","km":13.17,"ppm":6.4},{"series":"HALOE S. Am","id":"H","km":12.4,"ppm":9.9},

      {"series":"REPROBUS Bauru","id":"R","km":26,"ppm":4.19},{"series":"REPROBUS Bauru","id":"R","km":20,"ppm":3.84},{"series":"REPROBUS Bauru","id":"R","km":18.6,"ppm":3.22},{"series":"REPROBUS Bauru","id":"R","km":17.8,"ppm":2.91},{"series":"REPROBUS Bauru","id":"R","km":16.8,"ppm":2.87},{"series":"REPROBUS Bauru","id":"R","km":15.87,"ppm":2.91},{"series":"REPROBUS Bauru","id":"R","km":15.32,"ppm":4.78},{"series":"REPROBUS Bauru","id":"R","km":14.9,"ppm":7.74},{"series":"REPROBUS Bauru","id":"R","km":14.05,"ppm":12.8},{"series":"REPROBUS Bauru","id":"R","km":13.22,"ppm":51.8},{"series":"REPROBUS Bauru","id":"R","km":12.52,"ppm":103},{"series":"REPROBUS Bauru","id":"R","km":11.78,"ppm":214},{"series":"REPROBUS Bauru","id":"R","km":10.87,"ppm":362},{"series":"REPROBUS Bauru","id":"R","km":10.54,"ppm":445},{"series":"REPROBUS Bauru","id":"R","km":9.8,"ppm":561},{"series":"REPROBUS Bauru","id":"R","km":9.33,"ppm":689},{"series":"REPROBUS Bauru","id":"R","km":8.14,"ppm":1560},{"series":"REPROBUS Bauru","id":"R","km":6.73,"ppm":3980},{"series":"REPROBUS Bauru","id":"R","km":5.59,"ppm":5570},{"series":"REPROBUS Bauru","id":"R","km":5,"ppm":5820},

      {"series":"SDLA SF4","id":"SF4","km":19.48,"ppm":6.22},{"series":"SDLA SF4","id":"SF4","km":18.71,"ppm":6.4},{"series":"SDLA SF4","id":"SF4","km":18.29,"ppm":5.0},{"series":"SDLA SF4","id":"SF4","km":17.62,"ppm":3.82},{"series":"SDLA SF4","id":"SF4","km":16.63,"ppm":3.82},{"series":"SDLA SF4","id":"SF4","km":16.3,"ppm":4.3},{"series":"SDLA SF4","id":"SF4","km":15.82,"ppm":7.0},{"series":"SDLA SF4","id":"SF4","km":15.5,"ppm":10.4},{"series":"SDLA SF4","id":"SF4","km":14.9,"ppm":13.9},{"series":"SDLA SF4","id":"SF4","km":14.5,"ppm":17.8},{"series":"SDLA SF4","id":"SF4","km":14.08,"ppm":23.9},
      {"series":"SDLA SF2","id":"SF2","km":18.29,"ppm":5.0},{"series":"SDLA SF2","id":"SF2","km":16.8,"ppm":5.0},{"series":"SDLA SF2","id":"SF2","km":16.39,"ppm":4.13},{"series":"SDLA SF2","id":"SF2","km":15.5,"ppm":5.0},{"series":"SDLA SF2","id":"SF2","km":15.3,"ppm":5.2},{"series":"SDLA SF2","id":"SF2","km":14.83,"ppm":10.4},{"series":"SDLA SF2","id":"SF2","km":14.65,"ppm":12.0},{"series":"SDLA SF2","id":"SF2","km":14.58,"ppm":18.6},{"series":"SDLA SF2","id":"SF2","km":14.08,"ppm":23.9}
    ]
  },
  "data": {"name": "profiles"},
  "resolve": {"axis": {"x": "independent", "y": "independent"}},
  "layer": [
    {
      "transform": [{"filter": "datum.series === 'Evening'"}],
      "mark": {"type": "line", "clip": true},
      "encoding": {
        "x": {"field": "ppm", "type": "quantitative", "scale": {"type": "log", "domain": [1, 10000], "nice": false},
          "axis": {"orient": "bottom", "values": [1, 10, 100, 1000, 10000], "tickSize": -16, "labelPadding": 42,
            "labelExpr": "'10' + ['⁰','¹','²','³','⁴'][round(log(datum.value)/LN10)]",
            "title": "Mixing Ratio ( ppm )", "titlePadding": 15}},
        "y": {"field": "km", "type": "quantitative", "scale": {"domain": [5, 26], "nice": false, "zero": false},
          "axis": {"orient": "left", "values": [5, 10, 15, 20, 25], "tickSize": -16, "labelPadding": 28,
            "title": "Altitude (km)", "titlePadding": 41, "titleY": 400}},
        "detail": {"field": "id"},
        "order": {"field": "km", "type": "quantitative"},
        "color": {"field": "series", "type": "nominal",
          "scale": {"domain": ["Morning", "Evening", "HALOE S. Am", "REPROBUS Bauru", "SDLA SF4", "SDLA SF2"],
                    "range": ["#5a5ad6", "#f04a4a", "#000000", "#3a9a1e", "#6414d4", "#6414d4"]},
          "legend": {"orient": "none", "legendX": 284, "legendY": 115, "title": "Water vapour",
            "titleFont": "Liberation Serif", "titleFontSize": 34, "titleFontWeight": "normal", "titleColor": "black",
            "titleAnchor": "middle", "titlePadding": 2, "titleLimit": 500,
            "labelFont": "Liberation Serif", "labelFontSize": 25, "labelColor": "black", "labelOffset": 44, "labelLimit": 500,
            "symbolType": "stroke", "symbolSize": 784, "rowPadding": 0, "padding": 0}},
        "strokeDash": {"field": "series", "type": "nominal",
          "scale": {"domain": ["Morning", "Evening", "HALOE S. Am", "REPROBUS Bauru", "SDLA SF4", "SDLA SF2"],
                    "range": [[3, 3], [1, 0], [1, 0], [1, 0], [1, 0], [1, 0]]}},
        "strokeWidth": {"field": "series", "type": "nominal",
          "scale": {"type": "ordinal", "domain": ["Morning", "Evening", "HALOE S. Am", "REPROBUS Bauru", "SDLA SF4", "SDLA SF2"],
                    "range": [1, 1, 3, 3.5, 5, 5]}}
      }
    },
    {
      "transform": [{"filter": "datum.series === 'Morning'"}],
      "mark": {"type": "line", "clip": true},
      "encoding": {
        "x": {"field": "ppm", "type": "quantitative", "scale": {"type": "log", "domain": [1, 10000], "nice": false},
          "axis": {"orient": "bottom", "values": [2,3,4,5,6,7,8,9,20,30,40,50,60,70,80,90,200,300,400,500,600,700,800,900,2000,3000,4000,5000,6000,7000,8000,9000], "tickSize": -9, "labels": false, "title": null}},
        "y": {"field": "km", "type": "quantitative", "scale": {"domain": [5, 26], "nice": false, "zero": false},
          "axis": {"orient": "left", "values": [6,7,8,9,11,12,13,14,16,17,18,19,21,22,23,24,26], "tickSize": -9, "labels": false, "title": null}},
        "detail": {"field": "id"},
        "order": {"field": "km", "type": "quantitative"},
        "color": {"field": "series", "type": "nominal"},
        "strokeDash": {"field": "series", "type": "nominal"},
        "strokeWidth": {"field": "series", "type": "nominal", "scale": {"type": "ordinal"}}
      }
    },
    {
      "transform": [{"filter": "datum.series === 'HALOE S. Am'"}],
      "mark": {"type": "line", "clip": true},
      "encoding": {
        "x": {"field": "ppm", "type": "quantitative", "scale": {"type": "log", "domain": [1, 10000], "nice": false},
          "axis": {"orient": "top", "values": [1, 10, 100, 1000, 10000], "tickSize": -16, "labels": false, "title": null}},
        "y": {"field": "km", "type": "quantitative", "scale": {"domain": [5, 26], "nice": false, "zero": false},
          "axis": {"orient": "right", "values": [5, 10, 15, 20, 25], "tickSize": -16, "labels": false, "title": null}},
        "detail": {"field": "id"},
        "order": {"field": "km", "type": "quantitative"},
        "color": {"field": "series", "type": "nominal"},
        "strokeDash": {"field": "series", "type": "nominal"},
        "strokeWidth": {"field": "series", "type": "nominal", "scale": {"type": "ordinal"}}
      }
    },
    {
      "transform": [{"filter": "datum.series === 'REPROBUS Bauru'"}],
      "mark": {"type": "line", "clip": true},
      "encoding": {
        "x": {"field": "ppm", "type": "quantitative", "scale": {"type": "log", "domain": [1, 10000], "nice": false},
          "axis": {"orient": "top", "values": [2,3,4,5,6,7,8,9,20,30,40,50,60,70,80,90,200,300,400,500,600,700,800,900,2000,3000,4000,5000,6000,7000,8000,9000], "tickSize": -9, "labels": false, "title": null}},
        "y": {"field": "km", "type": "quantitative", "scale": {"domain": [5, 26], "nice": false, "zero": false},
          "axis": {"orient": "right", "values": [6,7,8,9,11,12,13,14,16,17,18,19,21,22,23,24,26], "tickSize": -9, "labels": false, "title": null}},
        "detail": {"field": "id"},
        "order": {"field": "km", "type": "quantitative"},
        "color": {"field": "series", "type": "nominal"},
        "strokeDash": {"field": "series", "type": "nominal"},
        "strokeWidth": {"field": "series", "type": "nominal", "scale": {"type": "ordinal"}}
      }
    },
    {
      "transform": [{"filter": "datum.series === 'SDLA SF4' || datum.series === 'SDLA SF2'"}],
      "mark": {"type": "line", "clip": true},
      "encoding": {
        "x": {"field": "ppm", "type": "quantitative", "scale": {"type": "log", "domain": [1, 10000], "nice": false}, "axis": null},
        "y": {"field": "km", "type": "quantitative", "scale": {"domain": [5, 26], "nice": false, "zero": false}, "axis": null},
        "detail": {"field": "id"},
        "order": {"field": "km", "type": "quantitative"},
        "color": {"field": "series", "type": "nominal"},
        "strokeDash": {"field": "series", "type": "nominal"},
        "strokeWidth": {"field": "series", "type": "nominal", "scale": {"type": "ordinal"}}
      }
    },
    {
      "data": {"values": [{"km": 17.57}]},
      "mark": {"type": "rule", "color": "#ff0000", "strokeWidth": 4, "strokeDash": [32, 12]},
      "encoding": {"y": {"field": "km", "type": "quantitative", "scale": {"domain": [5, 26], "nice": false, "zero": false}, "axis": null}}
    },
    {
      "data": {"values": [{"km": 16.79}]},
      "mark": {"type": "rule", "color": "#ff0000", "strokeWidth": 4, "strokeDash": [16, 12]},
      "encoding": {"y": {"field": "km", "type": "quantitative", "scale": {"domain": [5, 26], "nice": false, "zero": false}, "axis": null}}
    },
    {
      "data": {"values": [{"km": 14.81}]},
      "mark": {"type": "rule", "color": "#000000", "strokeWidth": 4, "strokeDash": [32, 12]},
      "encoding": {"y": {"field": "km", "type": "quantitative", "scale": {"domain": [5, 26], "nice": false, "zero": false}, "axis": null}}
    }
  ]
}
